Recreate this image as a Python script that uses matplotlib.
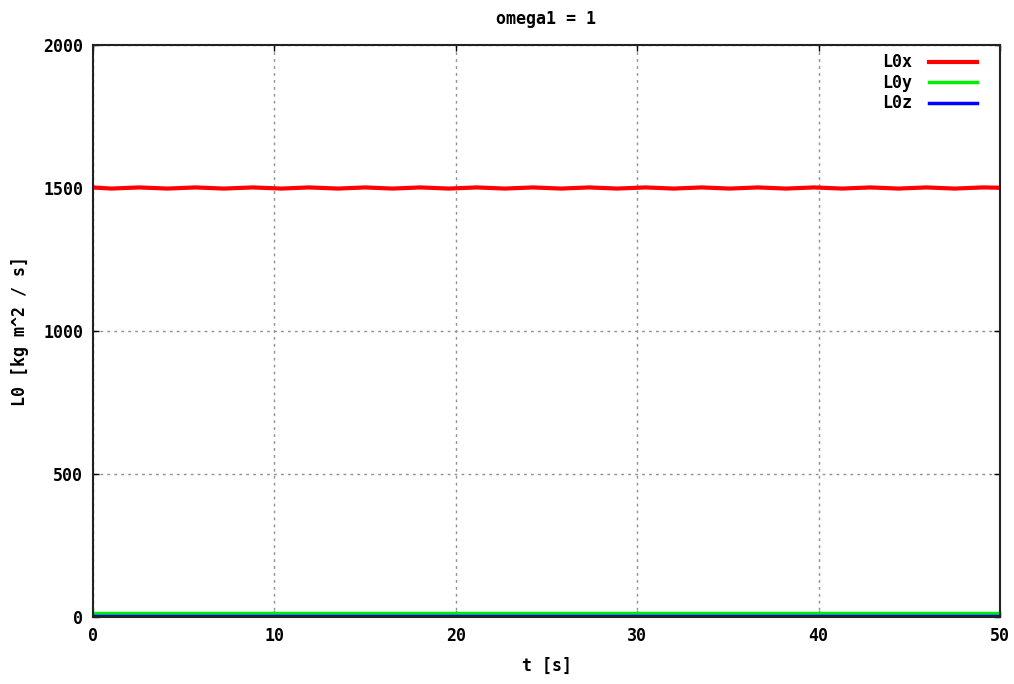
import matplotlib
matplotlib.use("Agg")
import matplotlib.pyplot as plt

title = "omega1 = 1"
xlabel = "t [s]"
ylabel = "L0 [kg m^2 / s]"

# L0x: small oscillation around 1500 (peak / trough points)
t_x = [0.0, 1.0, 2.55, 4.1, 5.65, 7.2, 8.8, 10.4, 11.9, 13.5, 15.0, 16.5, 18.05,
       19.6, 21.15, 22.7, 24.25, 25.8, 27.35, 28.9, 30.45, 32.0, 33.55, 35.1,
       36.65, 38.2, 39.75, 41.3, 42.85, 44.4, 45.95, 47.5, 49.05, 50.0]
L0x = [1502, 1498, 1502, 1498, 1502, 1498, 1502, 1498, 1502, 1498, 1502, 1498, 1502,
       1498, 1502, 1498, 1502, 1498, 1502, 1498, 1502, 1498, 1502, 1498,
       1502, 1498, 1502, 1498, 1502, 1498, 1502, 1498, 1502, 1501]
t_yz = [0.0, 50.0]
L0y = [14, 14]
L0z = [5, 5]

xticks = [0, 10, 20, 30, 40, 50]
yticks = [0, 500, 1000, 1500, 2000]

font = {"family": ["DejaVu Sans Mono"], "weight": "bold", "size": 12}

fig = plt.figure(figsize=(10.14, 6.84), dpi=100)
ax = fig.add_axes([93 / 1014, 1 - 617 / 684, (1000 - 93) / 1014, (617 - 45) / 684])

ax.plot(t_x, L0x, color="#ff0000", lw=3, label="L0x")
ax.plot(t_yz, L0y, color="#00ee00", lw=2.5, label="L0y")
ax.plot(t_yz, L0z, color="#0000ff", lw=2.5, label="L0z")

ax.set_xlim(0, 50)
ax.set_ylim(0, 2000)
ax.set_xticks(xticks)
ax.set_yticks(yticks)
ax.set_xticklabels([str(v) for v in xticks], fontdict=font)
ax.set_yticklabels([str(v) for v in yticks], fontdict=font)
ax.tick_params(direction="in", length=4, width=1, top=True, right=True, pad=7)
ax.grid(True, color="#909090", linestyle=(0, (2, 3)), linewidth=1)
for s in ax.spines.values():
    s.set_linewidth(1.5)
    s.set_color("#222222")

ax.set_title(title, fontdict=font, pad=15)
ax.set_xlabel(xlabel, fontdict=font, labelpad=9)
ax.set_ylabel(ylabel, fontdict=font, labelpad=10)

leg = ax.legend(loc="upper right", frameon=False,
                prop={"family": "DejaVu Sans Mono", "weight": "bold", "size": 12},
                markerfirst=False, handlelength=2.9, handletextpad=1.0, labelspacing=0.15,
                borderaxespad=0.1, bbox_to_anchor=(0.984, 1.0))

fig.savefig("out.png", dpi=100)
